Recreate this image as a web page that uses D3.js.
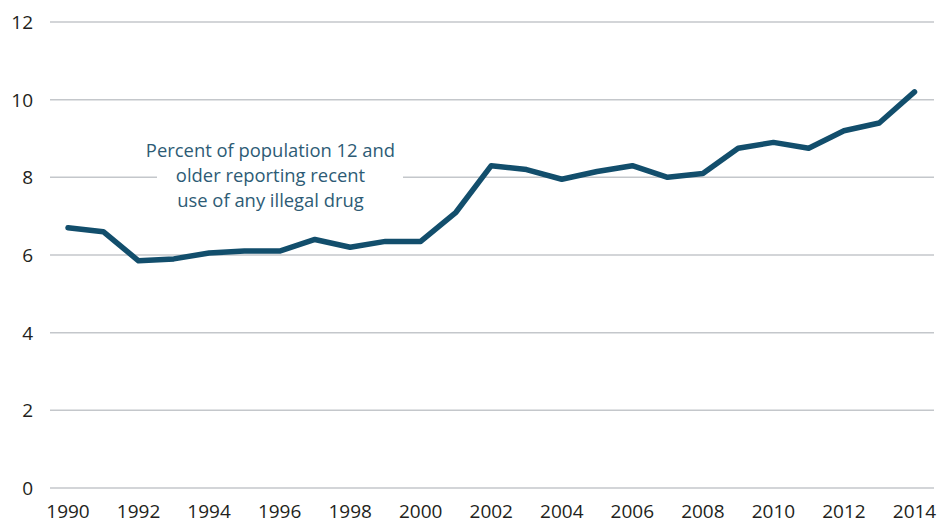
<!DOCTYPE html>
<html>
<head>
<meta charset="utf-8">
<script src="https://cdn.jsdelivr.net/npm/d3@7"></script>
<style>
  body { margin: 0; background: #fff; }
  svg { display: block; font-family: "Open Sans", sans-serif; }
</style>
</head>
<body>
<svg id="chart" width="940" height="521"></svg>
<script>
// Data
const years = d3.range(1990, 2015);
const percentUsing = [6.7, 6.6, 5.85, 5.9, 6.05, 6.1, 6.1, 6.4, 6.2, 6.35, 6.35, 7.1,
    8.3, 8.2, 7.95, 8.15, 8.3, 8.0, 8.1, 8.75, 8.9, 8.75, 9.2, 9.4, 10.2];
const yTicks = [0, 2, 4, 6, 8, 10, 12];
const xTicks = d3.range(1990, 2015, 2);
const noteLines = ['Percent of population 12 and', 'older reporting recent', 'use of any illegal drug'];

const svg = d3.select('#chart');

// Scales
const x = d3.scaleLinear().domain([1990, 2014]).range([68, 914.5]);
const y = d3.scaleLinear().domain([0, 12]).range([488, 22]);

// Gridlines
svg.append('g')
    .selectAll('line')
    .data(yTicks)
    .join('line')
    .attr('x1', 50)
    .attr('x2', 934)
    .attr('y1', d => y(d))
    .attr('y2', d => y(d))
    .style('stroke', '#c4c7cb')
    .style('stroke-width', 1.5);

// Y axis labels
svg.append('g')
    .selectAll('text')
    .data(yTicks)
    .join('text')
    .attr('x', 33)
    .attr('y', d => y(d) + 7)
    .attr('text-anchor', 'end')
    .style('font-size', '19px')
    .style('fill', '#231f20')
    .text(d => d);

// X axis labels
svg.append('g')
    .selectAll('text')
    .data(xTicks)
    .join('text')
    .attr('x', d => x(d))
    .attr('y', 518)
    .attr('text-anchor', 'middle')
    .style('font-size', '19px')
    .style('fill', '#231f20')
    .text(d => d);

// Annotation with a white box hiding the gridline behind it
const note = svg.append('g');
note.append('rect')
    .attr('x', 157)
    .attr('y', 140)
    .attr('width', 246)
    .attr('height', 72)
    .style('fill', '#fff');
note.selectAll('text')
    .data(noteLines)
    .join('text')
    .attr('x', 270.5)
    .attr('y', (d, i) => 157 + i * 25)
    .attr('text-anchor', 'middle')
    .style('font-size', '18.4px')
    .style('fill', '#2d5b75')
    .text(d => d);

// Line
const line = d3.line()
    .x((d, i) => x(years[i]))
    .y(d => y(d));

svg.append('path')
    .datum(percentUsing)
    .attr('d', line)
    .style('fill', 'none')
    .style('stroke', '#124e6c')
    .style('stroke-width', 5.5)
    .style('stroke-linejoin', 'round')
    .style('stroke-linecap', 'round');
</script>
</body>
</html>
